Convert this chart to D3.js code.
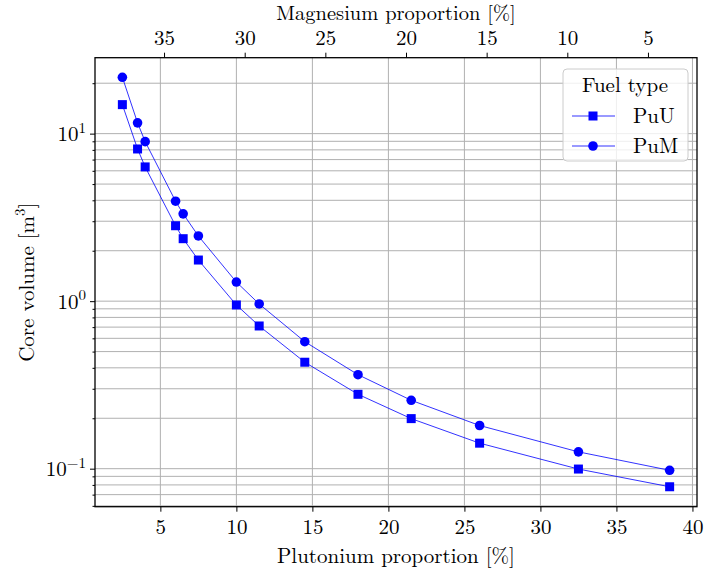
<!DOCTYPE html>
<html><head><meta charset="utf-8">
<script src="https://cdn.jsdelivr.net/npm/d3@7"></script>
<style>
html,body{margin:0;padding:0;background:#fff;}
</style></head>
<body><svg id="chart" width="705" height="572" font-family="Latin Modern Roman, Liberation Serif, serif"></svg>
<script>
// ---- data ----
const plutonium = [2.5, 3.5, 4, 6, 6.5, 7.5, 10, 11.5, 14.5, 18, 21.5, 26, 32.5, 38.5];
const puU = [14.9, 8.1, 6.33, 2.82, 2.36, 1.76, 0.949, 0.711, 0.432, 0.278, 0.199, 0.142, 0.0995, 0.078];
const puM = [21.7, 11.6, 8.96, 3.95, 3.32, 2.45, 1.30, 0.962, 0.573, 0.364, 0.256, 0.181, 0.126, 0.0978];
const seriesNames = ["PuU", "PuM"];
const bottomTicks = [5, 10, 15, 20, 25, 30, 35, 40];
const topTicks = [35, 30, 25, 20, 15, 10, 5];
const yMajorTicks = [0.1, 1, 10];
const xDomain = [0.7, 40.3];
const topDomain = [39.28, 1.96];
const yDomain = [0.0593, 28.4];

const FONT = "Latin Modern Roman, Liberation Serif, serif";
const svg = d3.select("#chart");
const L = 95, R = 697, T = 57.7, B = 506.7;
const x = d3.scaleLinear().domain(xDomain).range([L, R]);
const xTop = d3.scaleLinear().domain(topDomain).range([L, R]);
const y = d3.scaleLog().domain(yDomain).range([B, T]);

const gridColor = "#b0b0b0";
const yMinor = [];
for (let e = -2; e <= 1; e++) for (let m = 2; m <= 9; m++) {
  const v = m * Math.pow(10, e);
  if (v >= yDomain[0] && v <= yDomain[1]) yMinor.push(v);
}
const grid = svg.append("g");
grid.selectAll("line.ym").data(yMinor.concat(yMajorTicks)).join("line")
  .attr("x1", L).attr("x2", R).attr("y1", d => y(d)).attr("y2", d => y(d))
  .attr("stroke", gridColor).attr("stroke-width", 1);
grid.selectAll("line.xg").data(bottomTicks).join("line")
  .attr("x1", d => x(d)).attr("x2", d => x(d)).attr("y1", T).attr("y2", B)
  .attr("stroke", gridColor).attr("stroke-width", 1);

const fs = 21;
const bottomAxis = d3.axisBottom(x).tickValues(bottomTicks).tickSize(5).tickPadding(3).tickFormat(d3.format("d"));
const gB = svg.append("g").attr("transform", `translate(0,${B})`).call(bottomAxis);
const topAxis = d3.axisTop(xTop).tickValues(topTicks).tickSize(5).tickPadding(8).tickFormat(d3.format("d"));
const gT = svg.append("g").attr("transform", `translate(0,${T})`).call(topAxis);
const leftAxis = d3.axisLeft(y).tickValues(yMajorTicks).tickSize(5).tickFormat("");
const gL = svg.append("g").attr("transform", `translate(${L},0)`).call(leftAxis);
const leftMinor = d3.axisLeft(y).tickValues(yMinor).tickSize(2.5).tickFormat("");
const gLm = svg.append("g").attr("transform", `translate(${L},0)`).call(leftMinor);
[gB, gT, gL, gLm].forEach(g => {
  g.attr("font-family", FONT);
  g.select(".domain").remove();
  g.selectAll(".tick line").attr("stroke", "#000").attr("stroke-width", 1);
  g.selectAll(".tick text").attr("font-family", FONT).attr("font-size", fs).attr("fill", "#000");
});
gB.selectAll(".tick text").attr("dy", "0.9em");
const exps = {0.1: "\u22121", 1: "0", 10: "1"};
gL.selectAll(".tick").each(function(d) {
  const t = d3.select(this).append("text")
    .attr("x", -9).attr("dy", "0.33em").attr("text-anchor", "end")
    .attr("font-family", FONT).attr("font-size", fs).attr("fill", "#000");
  t.append("tspan").text("10");
  t.append("tspan").attr("font-size", 15).attr("dy", "-0.55em").text(exps[d]);
});

svg.append("rect").attr("x", L).attr("y", T).attr("width", R - L).attr("height", B - T)
  .attr("fill", "none").attr("stroke", "#000").attr("stroke-width", 1.3);

const blue = "#0000ff";
const line = d3.line().x(d => x(d[0])).y(d => y(d[1]));
const dataU = plutonium.map((p, i) => [p, puU[i]]);
const dataM = plutonium.map((p, i) => [p, puM[i]]);
[dataU, dataM].forEach(dd => {
  svg.append("path").datum(dd).attr("d", line).attr("fill", "none")
    .attr("stroke", blue).attr("stroke-opacity", 0.8).attr("stroke-width", 1);
});
const sq = 9;
svg.append("g").selectAll("rect").data(dataU).join("rect")
  .attr("x", d => x(d[0]) - sq / 2).attr("y", d => y(d[1]) - sq / 2)
  .attr("width", sq).attr("height", sq).attr("fill", blue);
svg.append("g").selectAll("circle").data(dataM).join("circle")
  .attr("cx", d => x(d[0])).attr("cy", d => y(d[1])).attr("r", 4.8).attr("fill", blue);

svg.append("text").attr("x", (L + R) / 2).attr("y", 563).attr("text-anchor", "middle")
  .attr("font-family", FONT).attr("font-size", fs).text("Plutonium proportion [%]");
svg.append("text").attr("x", (L + R) / 2).attr("y", 20).attr("text-anchor", "middle")
  .attr("font-family", FONT).attr("font-size", 20.5).text("Magnesium proportion [%]");
const yl = svg.append("text").attr("transform", `translate(34,${(T + B) / 2}) rotate(-90)`)
  .attr("text-anchor", "middle").attr("font-family", FONT).attr("font-size", fs);
yl.append("tspan").text("Core volume [m");
yl.append("tspan").attr("font-size", 15).attr("dy", "-0.6em").text("3");
yl.append("tspan").attr("dy", "0.45em").text("]");

const lg = svg.append("g").attr("font-family", FONT);
lg.append("rect").attr("x", 563).attr("y", 69).attr("width", 125).attr("height", 92).attr("rx", 4)
  .attr("fill", "#fff").attr("fill-opacity", 0.8).attr("stroke", "#cccccc").attr("stroke-width", 1);
lg.append("text").attr("x", 625).attr("y", 92).attr("text-anchor", "middle").attr("font-size", fs).text("Fuel type");
const entries = [{name: seriesNames[0], yy: 116, shape: "sq"}, {name: seriesNames[1], yy: 146, shape: "c"}];
entries.forEach(e => {
  lg.append("line").attr("x1", 572).attr("x2", 615).attr("y1", e.yy).attr("y2", e.yy)
    .attr("stroke", blue).attr("stroke-opacity", 0.8).attr("stroke-width", 1);
  if (e.shape === "sq") lg.append("rect").attr("x", 593 - sq / 2).attr("y", e.yy - sq / 2).attr("width", sq).attr("height", sq).attr("fill", blue);
  else lg.append("circle").attr("cx", 593).attr("cy", e.yy).attr("r", 4.8).attr("fill", blue);
  lg.append("text").attr("x", 633).attr("y", e.yy + 7).attr("font-size", fs).text(e.name);
});
</script></body></html>
